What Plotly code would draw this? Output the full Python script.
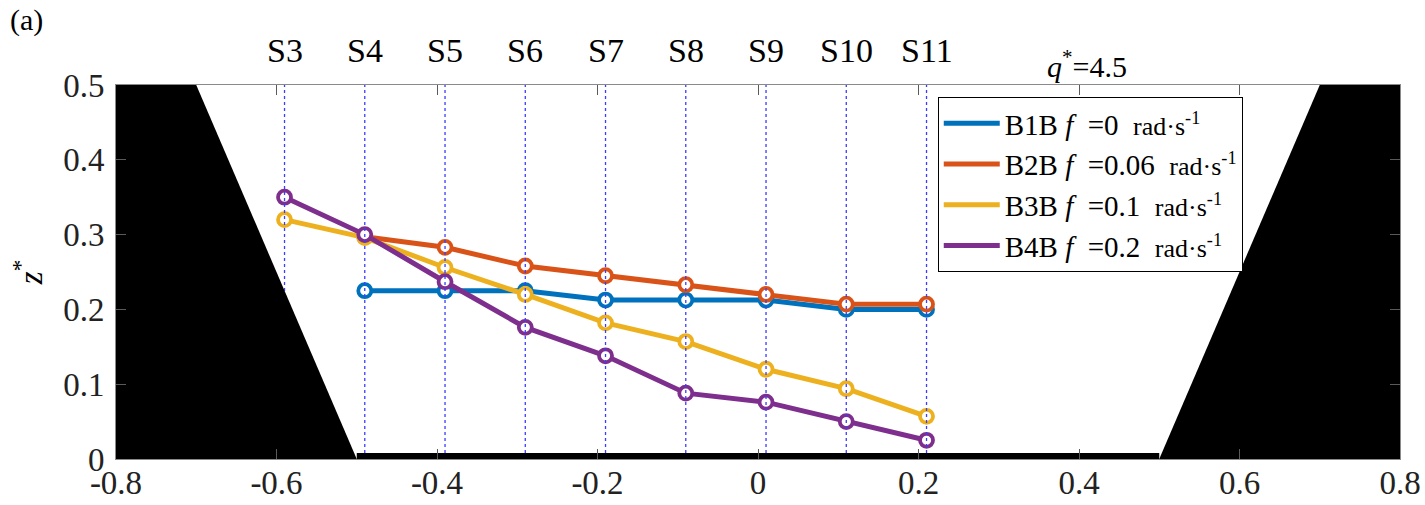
import plotly.graph_objects as go

# Gauging stations along the channel and their cross-channel positions
stations = ["S3", "S4", "S5", "S6", "S7", "S8", "S9", "S10", "S11"]
station_x = [-0.59, -0.49, -0.39, -0.29, -0.19, -0.09, 0.01, 0.11, 0.21]

# Interface height z* at each station (B1B and B2B start at S4)
b1b_z = [0.225, 0.225, 0.225, 0.2125, 0.2125, 0.2125, 0.2, 0.2]
b2b_z = [0.297, 0.283, 0.258, 0.245, 0.233, 0.22, 0.207, 0.207]
b3b_z = [0.32, 0.296, 0.256, 0.22, 0.182, 0.157, 0.12, 0.094, 0.057]
b4b_z = [0.35, 0.30, 0.237, 0.176, 0.138, 0.088, 0.076, 0.05, 0.025]

series_names = ["B1B", "B2B", "B3B", "B4B"]
series_f = ["0", "0.06", "0.1", "0.2"]
series_colors = ["#0072BD", "#D95319", "#EDB120", "#7E2F8E"]

# Trapezoidal channel walls
left_wall_x = [-0.8, -0.8, -0.7, -0.5]
left_wall_z = [0.0, 0.5, 0.5, 0.0]
right_wall_x = [0.5, 0.7, 0.8, 0.8]
right_wall_z = [0.0, 0.5, 0.5, 0.0]
bed_x = [-0.5, 0.5]
bed_z = [0.0, 0.0]

x_ticks = [-0.8, -0.6, -0.4, -0.2, 0, 0.2, 0.4, 0.6, 0.8]
x_tick_text = ["-0.8", "-0.6", "-0.4", "-0.2", "0", "0.2", "0.4", "0.6", "0.8"]
y_ticks = [0, 0.1, 0.2, 0.3, 0.4, 0.5]
y_tick_text = ["0", "0.1", "0.2", "0.3", "0.4", "0.5"]

SERIF = "Times New Roman, Liberation Serif, serif"

fig = go.Figure()

series_x = [station_x[1:], station_x[1:], station_x, station_x]
series_z = [b1b_z, b2b_z, b3b_z, b4b_z]

for name, xs, zs, col in zip(series_names, series_x, series_z, series_colors):
    fig.add_trace(go.Scatter(
        x=xs, y=zs, mode="lines+markers", showlegend=False,
        line=dict(color=col, width=5),
        marker=dict(symbol="circle", size=13, color="white",
                    line=dict(color=col, width=3.8)),
    ))

# Station guide lines
for sx in station_x:
    fig.add_trace(go.Scatter(
        x=[sx, sx], y=[0, 0.5], mode="lines", showlegend=False,
        line=dict(color="#3c3cff", width=1.3, dash="dot"),
    ))

# Channel walls and bed
for wx, wz in [(left_wall_x, left_wall_z), (right_wall_x, right_wall_z)]:
    fig.add_trace(go.Scatter(
        x=wx, y=wz, mode="lines", fill="toself", fillcolor="black",
        line=dict(color="black", width=0), showlegend=False,
    ))
fig.add_trace(go.Scatter(
    x=bed_x, y=bed_z, mode="lines", showlegend=False,
    line=dict(color="black", width=12),
))

# Legend entries (lines only)
for name, fval, col in zip(series_names, series_f, series_colors):
    label = (f"{name}&nbsp;<i>f</i>&nbsp;&nbsp;=" + fval +
             "&nbsp;&nbsp;<span style='font-size:26px'>rad·s<sup>-1</sup></span>")
    fig.add_trace(go.Scatter(
        x=[None], y=[None], mode="lines", name=label,
        line=dict(color=col, width=5),
    ))

for s, sx in zip(stations, station_x):
    fig.add_annotation(
        x=sx, y=1.0, xref="x", yref="paper", yanchor="middle",
        yshift=35, text=s, showarrow=False,
        font=dict(family=SERIF, size=34, color="black"),
    )

fig.add_annotation(
    x=0.41, y=1.0, xref="x", yref="paper", yanchor="middle", yshift=21,
    text="<i>q</i><sup>*</sup>=4.5", showarrow=False,
    font=dict(family=SERIF, size=30, color="black"),
)
fig.add_annotation(
    x=-0.084, y=1.174, xref="paper", yref="paper", xanchor="left",
    yanchor="middle", text="(a)", showarrow=False,
    font=dict(family=SERIF, size=30, color="black"),
)

axis_common = dict(
    showgrid=False, zeroline=False, showline=True, linecolor="#8a8a8a",
    linewidth=1, mirror="ticks", ticks="inside", ticklen=10,
    tickcolor="#5a5a5a", tickwidth=1, automargin=False,
    tickfont=dict(family=SERIF, size=33, color="#222222"),
)

fig.update_layout(
    width=1425, height=505,
    margin=dict(l=116, r=25, t=85, b=46),
    paper_bgcolor="white", plot_bgcolor="white",
    xaxis=dict(range=[-0.8, 0.8], tickvals=x_ticks, ticktext=x_tick_text,
               ticklabelstandoff=-6, **axis_common),
    yaxis=dict(range=[0, 0.5], tickvals=y_ticks, ticktext=y_tick_text,
               ticklabelstandoff=4,
               title=dict(text="<i>z</i><sup>*</sup>", standoff=10,
                          font=dict(family=SERIF, size=33, color="black")),
               **axis_common),
    legend=dict(
        x=0.640, y=0.968, xanchor="left", yanchor="top",
        bgcolor="white", bordercolor="black", borderwidth=1,
        font=dict(family=SERIF, size=29, color="black"),
        itemwidth=56, tracegroupgap=0,
    ),
)

fig.write_html("out.html")
